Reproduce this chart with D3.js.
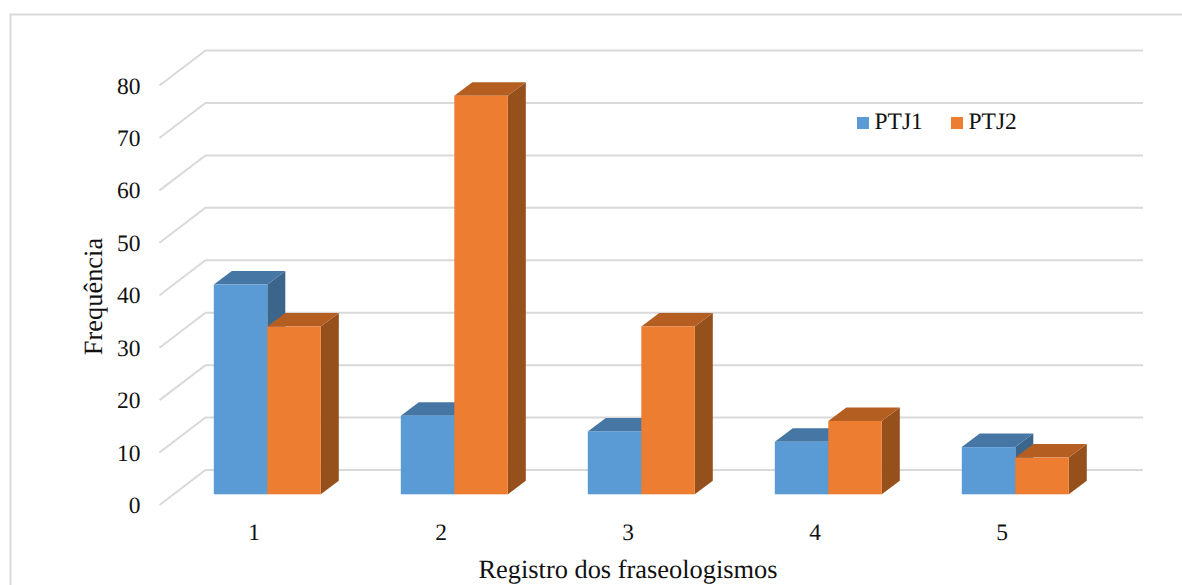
<!DOCTYPE html>
<html><head><meta charset="utf-8">
<script src="https://cdn.jsdelivr.net/npm/d3@7/dist/d3.min.js"></script>
<style>html,body{margin:0;padding:0;background:#fff}svg{display:block}text{font-family:"Liberation Serif",serif;fill:#111;text-rendering:geometricPrecision}</style>
</head><body><svg id="c" width="1182" height="585"></svg>
<script>
const categories = ["1","2","3","4","5"];
const seriesNames = ["PTJ1","PTJ2"];
const ptj1 = [40,15,12,10,9];
const ptj2 = [32,76,32,14,7];
const yTicks = [0,10,20,30,40,50,60,70,80];
const colors = {PTJ1:{front:"#5b9bd5",top:"#4676a3",side:"#3c658c"},PTJ2:{front:"#ed7d31",top:"#b55e22",side:"#96501c"}};

const svg = d3.select("#c");
const W = 1182, H = 585;
svg.append("path").attr("d",`M10.5 ${H}V14.5H${W}`).attr("fill","none").attr("stroke","#d9d9d9").attr("stroke-width",2);

const y = d3.scaleLinear().domain([0,80]).range([505,85.5]);
const backDx = 46, backDy = -35;
const x = d3.scaleBand().domain(categories).range([160.5,1095.5]);
const sub = d3.scaleBand().domain(seriesNames).range([0,107]);
const barOffset = 13.3 + x.bandwidth()/2 - 53.5;
const baseDy = -10.7;
const depthX = 18, depthY = -13.5;

const grid = svg.append("g");
yTicks.forEach(t=>{
  grid.append("path")
    .attr("d",`M${159.5} ${y(t)}L${159.5+backDx} ${y(t)+backDy}H1143`)
    .attr("fill","none").attr("stroke","#d9d9d9").attr("stroke-width",2);
});

const axisY = svg.append("g").attr("transform","translate(140.5,0)")
  .call(d3.axisLeft(y).tickValues(yTicks).tickSize(0).tickPadding(0));
axisY.select(".domain").remove();
axisY.selectAll("text").attr("font-size",23.5).attr("font-family",'"Liberation Serif",serif').attr("fill","#111");

const axisX = svg.append("g").attr("transform","translate(0,523)")
  .call(d3.axisBottom(x).tickSize(0).tickPadding(0));
axisX.select(".domain").remove();
axisX.selectAll("text").attr("font-size",23.5).attr("font-family",'"Liberation Serif",serif').attr("fill","#111");

const series = [{name:"PTJ1",values:ptj1},{name:"PTJ2",values:ptj2}];
const bars = svg.append("g");
categories.forEach((c,i)=>{
  series.forEach(s=>{
    const col = colors[s.name];
    const x0 = x(c)+barOffset+sub(s.name);
    const x1 = x0+sub.bandwidth();
    const yb = y(0)+baseDy, yt = y(s.values[i])+baseDy;
    const g = bars.append("g");
    g.append("path").attr("d",`M${x1} ${yt}L${x1+depthX} ${yt+depthY}V${yb+depthY}L${x1} ${yb}Z`).attr("fill",col.side);
    g.append("path").attr("d",`M${x0} ${yt}L${x0+depthX} ${yt+depthY}H${x1+depthX}L${x1} ${yt}Z`).attr("fill",col.top);
    g.append("rect").attr("x",x0).attr("y",yt).attr("width",x1-x0).attr("height",yb-yt).attr("fill",col.front);
  });
});

svg.append("text").attr("x",628).attr("y",578).attr("text-anchor","middle").attr("font-size",26.4).text("Registro dos fraseologismos");
svg.append("text").attr("transform","translate(102,296.5) rotate(-90)").attr("text-anchor","middle").attr("font-size",26.4).text("Frequência");

const legendX = [857,951];
seriesNames.forEach((n,i)=>{
  svg.append("rect").attr("x",legendX[i]).attr("y",117).attr("width",12).attr("height",12).attr("fill",colors[n].front);
  svg.append("text").attr("x",legendX[i]+17.5).attr("y",129).attr("font-size",23.5).text(n);
});
</script></body></html>
